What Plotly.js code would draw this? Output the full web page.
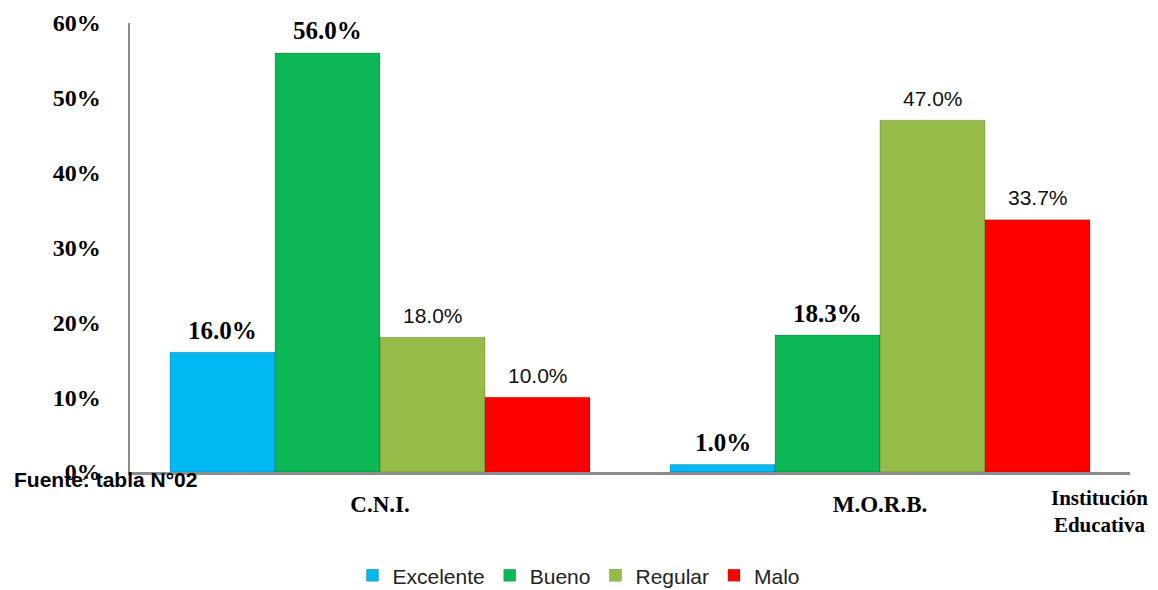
<!DOCTYPE html>
<html><head><meta charset="utf-8">
<script src="https://cdn.plot.ly/plotly-3.0.1.min.js"></script>
<style>html,body{margin:0;padding:0;background:#fff}#chart{width:1158px;height:590px}</style>
</head><body><div id="chart"></div>
<script>
const categories = ['C.N.I.', 'M.O.R.B.'];
const seriesNames = ['Excelente', 'Bueno', 'Regular', 'Malo'];
const excelente = [16.0, 1.0];
const bueno = [56.0, 18.3];
const regular = [18.0, 47.0];
const malo = [10.0, 33.7];
const yTickValues = [0, 10, 20, 30, 40, 50, 60];
const yTickLabels = ['0%', '10%', '20%', '30%', '40%', '50%', '60%'];
const sourceNote = 'Fuente: tabla N°02';
const axisTitle = 'Institución<br>Educativa';

const seriesValues = [excelente, bueno, regular, malo];
const colors = ['#00B9F2', '#0BB855', '#95BC48', '#FF0000'];
const boldLabels = [true, true, false, false];
const bargap = 0.16;
const barW = (1 - bargap) / seriesNames.length;

const serifFamily = '"Liberation Serif", "Times New Roman", serif';
const sansFamily = '"Liberation Sans", Arial, sans-serif';

const traces = seriesNames.map((name, j) => ({
  type: 'bar',
  name: name,
  x: categories,
  y: seriesValues[j],
  marker: {color: colors[j], line: {color: 'rgba(0,0,0,0.18)', width: 1}},
  hoverinfo: 'skip'
}));

const annotations = [];
seriesValues.forEach((vals, j) => {
  vals.forEach((v, i) => {
    annotations.push({
      x: i + (j - (seriesNames.length - 1) / 2) * barW,
      y: v,
      xref: 'x', yref: 'y',
      text: v.toFixed(1) + '%',
      showarrow: false,
      yanchor: 'middle',
      yshift: 22,
      font: boldLabels[j]
        ? {family: serifFamily, weight: 700, size: 25, color: '#000'}
        : {family: sansFamily, size: 21, color: '#111'}
    });
  });
});
annotations.push({
  xref: 'paper', yref: 'paper', x: -0.118, y: -0.016, xanchor: 'left', yanchor: 'middle',
  text: sourceNote, showarrow: false,
  font: {family: sansFamily, weight: 700, size: 21, color: '#000'}
});
annotations.push({
  xref: 'paper', yref: 'paper', x: 0.969, y: -0.088, xanchor: 'center', yanchor: 'middle',
  text: axisTitle, showarrow: false,
  font: {family: serifFamily, weight: 700, size: 21, color: '#000'}
});

const layout = {
  width: 1158, height: 590,
  margin: {l: 130, r: 28, t: 23, b: 118, autoexpand: false},
  paper_bgcolor: '#fff', plot_bgcolor: '#fff',
  barmode: 'group', bargap: bargap, bargroupgap: 0,
  showlegend: true,
  legend: {
    orientation: 'h', x: 0.449, xanchor: 'center', y: -0.231, yanchor: 'middle',
    font: {family: sansFamily, size: 21, color: '#222'},
    traceorder: 'normal'
  },
  xaxis: {
    type: 'category', showline: true, linecolor: '#8C8C8C', linewidth: 2.5,
    showgrid: false, zeroline: false, ticks: '', ticklabelstandoff: 10, automargin: false,
    tickfont: {family: serifFamily, weight: 700, size: 23, color: '#000'}
  },
  yaxis: {
    range: [0, 60], showline: true, linecolor: '#8C8C8C', linewidth: 2.5,
    showgrid: false, zeroline: false, ticks: '', ticklabelstandoff: 22, automargin: false,
    tickvals: yTickValues, ticktext: yTickLabels,
    tickfont: {family: serifFamily, weight: 700, size: 24, color: '#000'}
  },
  annotations: annotations
};

Plotly.newPlot('chart', traces, layout, {displayModeBar: false, staticPlot: true});
</script>
</body></html>
